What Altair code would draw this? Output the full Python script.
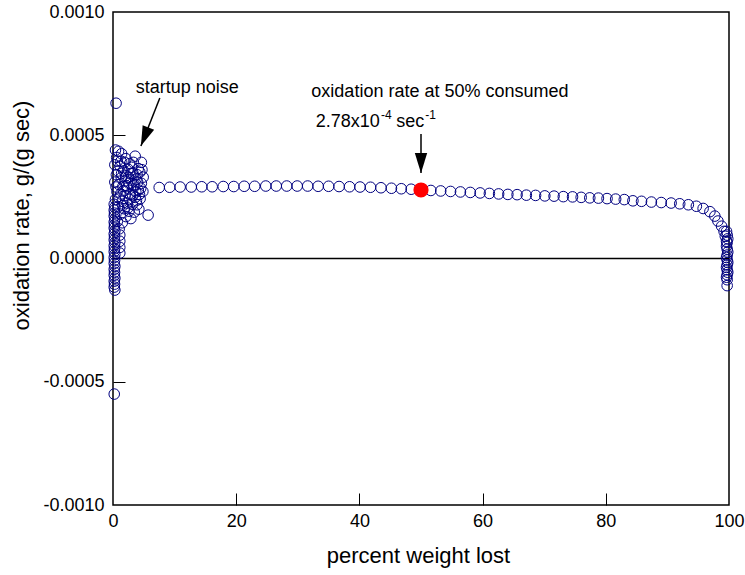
import altair as alt
import pandas as pd

FONT = "Liberation Sans"
W, H = 616, 493

# ---- data (x = percent weight lost, y in units of 1e-4 g/(g sec)) ----
curve_x = [7.5, 9.2, 10.9, 12.7, 14.4, 16.1, 17.9, 19.6, 21.3, 23.0, 24.8, 26.5, 28.2,
           29.9, 31.6, 33.3, 35.0, 36.7, 38.4, 40.1, 41.8, 43.5, 45.2, 46.8, 48.4,
           51.6, 53.2, 54.8, 56.4, 58.0, 59.6, 61.1, 62.6, 64.1, 65.6, 67.1, 68.6,
           70.1, 71.6, 73.1, 74.6, 76.0, 77.4, 78.8, 80.2, 81.6, 83.0, 84.4, 85.8,
           87.4, 89.0, 90.6, 92.0, 93.4, 94.7, 95.8, 96.9, 97.7, 98.2, 98.8, 99.2,
           99.4, 99.6]
curve_y = [2.88, 2.89, 2.90, 2.90, 2.91, 2.91, 2.92, 2.92, 2.93, 2.93, 2.94, 2.94, 2.94,
           2.94, 2.94, 2.93, 2.93, 2.92, 2.91, 2.90, 2.89, 2.87, 2.85, 2.83, 2.81,
           2.76, 2.74, 2.72, 2.70, 2.68, 2.66, 2.64, 2.62, 2.60, 2.59, 2.57, 2.56,
           2.54, 2.53, 2.51, 2.50, 2.48, 2.46, 2.45, 2.43, 2.41, 2.39, 2.34, 2.32,
           2.29, 2.27, 2.25, 2.22, 2.18, 2.12, 2.03, 1.90, 1.72, 1.52, 1.31, 1.10,
           0.90, 0.70]

noise_x = [0.4, 0.9, 0.6, 1.4, 2.1, 2.7, 3.6, 4.6, 4.1,
           0.3, 1.15, 1.75, 2.45, 3.25, 4.35, 4.9,
           0.55, 1.35, 2.05, 2.95, 3.75, 4.6,
           0.3, 0.95, 1.6, 2.35, 3.35, 4.1, 4.85,
           0.65, 1.25, 1.95, 2.8, 3.6, 4.4,
           0.4, 1.5, 2.3, 3.15, 3.9,
           0.85, 1.8, 2.6, 3.45, 4.2,
           1.2, 2.1, 2.9, 5.7,
           0.7, 1.5, 1.0, 1.1, 1.1, 1.1, 1.1,
           0.5, 0.2,
           1.9, 2.5, 3.0, 3.9, 3.4, 2.2, 1.3, 0.8, 2.7, 3.7, 4.5, 1.7, 2.9, 4.0,
           3.2, 2.0, 1.0, 4.7, 3.3, 2.4, 0.5, 1.6, 3.8, 4.3, 2.6, 1.4, 0.7]
noise_y = [4.4, 4.35, 4.1, 4.25, 4.05, 3.85, 4.15, 3.9, 3.65,
           3.8, 3.75, 3.55, 3.62, 3.45, 3.5, 3.3,
           3.4, 3.28, 3.35, 3.18, 3.22, 3.05,
           3.1, 3.0, 2.92, 2.86, 2.95, 2.78, 2.72,
           2.7, 2.62, 2.55, 2.6, 2.48, 2.42,
           2.4, 2.32, 2.25, 2.2, 2.18,
           2.1, 2.02, 1.92, 1.88, 2.0,
           1.8, 1.7, 1.62, 1.76,
           1.5, 1.45, 1.2, 0.95, 0.7, 0.45, 0.22,
           6.3, -5.5,
           3.9, 3.3, 3.7, 3.4, 3.0, 2.95, 3.95, 3.55, 2.4, 2.7, 2.85, 2.75, 3.45, 3.1,
           2.55, 3.15, 2.45, 3.6, 3.9, 2.05, 2.9, 2.15, 2.35, 2.6, 3.05, 3.45, 3.95]

start_col_x = [0.2, 0.3, 0.2, 0.25, 0.2, 0.3, 0.2, 0.25, 0.2, 0.3, 0.2, 0.25, 0.2, 0.3,
               0.2, 0.25, 0.2, 0.3, 0.2, 0.25, 0.2, 0.3, 0.2, 0.25, 0.2, 0.3, 0.2, 0.25,
               0.2, 0.3]
start_col_y = [2.2, 2.08, 1.96, 1.84, 1.72, 1.6, 1.48, 1.36, 1.24, 1.12, 1.0, 0.88,
               0.76, 0.64, 0.52, 0.4, 0.28, 0.16, 0.04, -0.08, -0.2, -0.32, -0.44,
               -0.56, -0.68, -0.8, -0.92, -1.04, -1.16, -1.28]

end_col_x = [99.6, 99.7, 99.8, 99.7, 99.6, 99.7, 99.8, 99.7, 99.6, 99.7, 99.8, 99.7,
             99.6, 99.7, 99.8, 99.7, 99.6, 99.7, 99.7]
end_col_y = [1.10, 0.95, 0.80, 0.65, 0.50, 0.38, 0.26, 0.14, 0.04, -0.06, -0.16,
             -0.26, -0.36, -0.46, -0.56, -0.66, -0.76, -0.86, -1.10]

red_x = [50.0]
red_y = [2.78]

x_ticks = [0, 20, 40, 60, 80, 100]
y_ticks = [-0.001, -0.0005, 0.0, 0.0005, 0.001]
inner_x_ticks = [20, 40, 60, 80]
inner_y_ticks = [-0.0005, 0.0005]

SCALE_E = 1e-4
all_x = noise_x + start_col_x + curve_x + end_col_x
all_y = [v * SCALE_E for v in noise_y + start_col_y + curve_y + end_col_y]
df = pd.DataFrame({"x": all_x, "y": all_y})
red_df = pd.DataFrame({"x": red_x, "y": [v * SCALE_E for v in red_y]})

xs = alt.Scale(domain=[0, 100], nice=False, zero=False)
ys = alt.Scale(domain=[-0.001, 0.001], nice=False, zero=False)

label_expr = "replace(format(datum.value, '.4f'), '\u2212', '-')"

points = alt.Chart(df).mark_point(
    shape="circle", filled=False, size=112, color="#000080", strokeWidth=1, opacity=1
).encode(
    x=alt.X("x:Q", scale=xs, axis=alt.Axis(
        title="percent weight lost", values=x_ticks, ticks=False, domain=False,
        grid=False, labelFont=FONT, labelFontSize=18, labelColor="black",
        labelPadding=7, labelFlush=False, titleFont=FONT, titleFontSize=22,
        titleFontWeight="normal", titleColor="black", titleX=305, titleY=50,
        titleBaseline="middle", titleAlign="center")),
    y=alt.Y("y:Q", scale=ys, axis=alt.Axis(
        title="oxidation rate, g/(g sec)", values=y_ticks, labelExpr=label_expr,
        ticks=False, domain=False, grid=False, labelFont=FONT, labelFontSize=18,
        labelColor="black", labelPadding=9, labelFlush=False, titleFont=FONT,
        titleFontSize=22, titleFontWeight="normal", titleColor="black",
        titleX=-92, titleY=203, titleBaseline="middle", titleAlign="center")),
)

# inward tick marks: axes moved onto the opposite edge so their ticks point inward
tick_df = pd.DataFrame({"x": [0.0, 100.0], "y": [-0.001, 0.001]})
inner_ticks = alt.Chart(tick_df).mark_point(opacity=0).encode(
    x=alt.X("x:Q", scale=xs, axis=alt.Axis(
        orient="top", offset=-H, values=inner_x_ticks, labels=False, domain=False,
        grid=False, ticks=True, tickSize=12, tickColor="black", tickWidth=1,
        title=None)),
    y=alt.Y("y:Q", scale=ys, axis=alt.Axis(
        orient="right", offset=-W, values=inner_y_ticks, labels=False, domain=False,
        grid=False, ticks=True, tickSize=12, tickColor="black", tickWidth=1,
        title=None)),
)

zero_df = pd.DataFrame({"y": [0.0]})
zero_rule = alt.Chart(zero_df).mark_rule(color="black", strokeWidth=1.5).encode(
    y=alt.Y("y:Q", scale=ys, axis=None)
)

red = alt.Chart(red_df).mark_point(
    shape="circle", filled=True, size=230, color="#ff0000", opacity=1
).encode(
    x=alt.X("x:Q", scale=xs, axis=None),
    y=alt.Y("y:Q", scale=ys, axis=None),
)

# annotations
txt_x = [3.7, 32.2, 32.9, 46.0]
txt_y = [0.000671, 0.000654, 0.000535, 0.000535]
txt_t = ["startup noise", "oxidation rate at 50% consumed", "2.78x10", "sec"]
txt_df = pd.DataFrame({"x": txt_x, "y": txt_y, "t": txt_t})
texts = alt.Chart(txt_df).mark_text(
    font=FONT, fontSize=18, align="left", baseline="alphabetic", color="black"
).encode(
    x=alt.X("x:Q", scale=xs, axis=None),
    y=alt.Y("y:Q", scale=ys, axis=None),
    text="t:N",
)

sup_x = [43.5, 50.7]
sup_y = [0.000566, 0.000566]
sup_t = ["-4", "-1"]
sup_df = pd.DataFrame({"x": sup_x, "y": sup_y, "t": sup_t})
sups = alt.Chart(sup_df).mark_text(
    font=FONT, fontSize=12, align="left", baseline="alphabetic", color="black"
).encode(
    x=alt.X("x:Q", scale=xs, axis=None),
    y=alt.Y("y:Q", scale=ys, axis=None),
    text="t:N",
)

arr_x = [7.6, 50.0]
arr_y = [0.000651, 0.000505]
arr_x2 = [4.53, 50.0]
arr_y2 = [0.000456, 0.000347]
arr_angle = [22, 0]
arr_df = pd.DataFrame({"x": arr_x, "y": arr_y, "x2": arr_x2, "y2": arr_y2,
                       "a": arr_angle})
arrow_lines = alt.Chart(arr_df).mark_rule(color="black", strokeWidth=1.5).encode(
    x=alt.X("x:Q", scale=xs, axis=None),
    y=alt.Y("y:Q", scale=ys, axis=None),
    x2="x2:Q",
    y2="y2:Q",
)
arrow_heads = alt.Chart(arr_df).mark_point(
    shape="M0,0L-0.62,-2L0.62,-2Z", filled=True, size=400, color="black",
    strokeWidth=0, opacity=1
).encode(
    x=alt.X("x2:Q", scale=xs, axis=None),
    y=alt.Y("y2:Q", scale=ys, axis=None),
    angle=alt.Angle("a:Q", scale=None),
)

chart = alt.layer(
    zero_rule, points, red, texts, sups, arrow_lines, arrow_heads, inner_ticks
).resolve_axis(
    x="independent", y="independent"
).properties(
    width=W, height=H,
    autosize=alt.AutoSizeParams(type="none"),
    padding={"left": 113, "top": 12, "right": 16, "bottom": 70},
    background="white",
).configure_view(
    stroke="black", strokeWidth=1.5
)

chart.save("out.html", embed_options={"renderer": "svg", "actions": False})
